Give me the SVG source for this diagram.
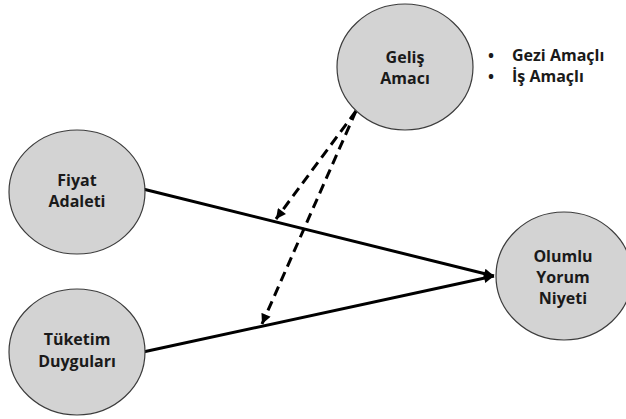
<svg xmlns="http://www.w3.org/2000/svg" width="626" height="419" viewBox="0 0 626 419">
  <style>
    .node { fill: #d3d3d3; stroke: #3c3c3c; stroke-width: 1.2; }
    .label { font-family: "Open Sans", "Liberation Sans", sans-serif; font-weight: bold; font-size: 16px; fill: #1a1a1a; text-anchor: middle; }
    .list { font-family: "Open Sans", "Liberation Sans", sans-serif; font-weight: bold; font-size: 16px; fill: #1a1a1a; }
    .solid { fill: none; stroke: #000; stroke-width: 3; }
    .dashed { fill: none; stroke: #000; stroke-width: 3; stroke-dasharray: 10 6; }
  </style>
  <defs>
    <marker id="arrow" viewBox="0 0 10 10" refX="10" refY="5" markerWidth="11" markerHeight="10" markerUnits="userSpaceOnUse" orient="auto">
      <path d="M0,0 L10,5 L0,10 z" fill="#000"/>
    </marker>
  </defs>
  <rect width="626" height="419" fill="#fff"/>

  <g id="connectors">
    <line class="solid" x1="143" y1="189" x2="494" y2="276" marker-end="url(#arrow)"/>
    <line class="solid" x1="143" y1="352" x2="494" y2="276" marker-end="url(#arrow)"/>
    <line class="dashed" x1="356" y1="111" x2="276" y2="219" marker-end="url(#arrow)"/>
    <line class="dashed" x1="356" y1="111" x2="262" y2="324" marker-end="url(#arrow)"/>
  </g>

  <g id="gelis-amaci">
    <ellipse class="node" cx="405" cy="67" rx="68" ry="63"/>
    <text class="label" x="405" y="63">Geliş</text>
    <text class="label" x="405" y="84">Amacı</text>
  </g>

  <g id="gelis-turleri">
    <text class="list" x="488" y="61">•</text>
    <text class="list" x="512" y="61">Gezi Amaçlı</text>
    <text class="list" x="488" y="82">•</text>
    <text class="list" x="512" y="82">İş Amaçlı</text>
  </g>

  <g id="fiyat-adaleti">
    <ellipse class="node" cx="77" cy="192" rx="68" ry="62"/>
    <text class="label" x="77" y="186">Fiyat</text>
    <text class="label" x="77" y="207">Adaleti</text>
  </g>

  <g id="tuketim-duygulari">
    <ellipse class="node" cx="77" cy="352" rx="68" ry="63"/>
    <text class="label" x="77" y="345">Tüketim</text>
    <text class="label" x="77" y="367">Duyguları</text>
  </g>

  <g id="olumlu-yorum-niyeti">
    <ellipse class="node" cx="564" cy="276" rx="68" ry="64"/>
    <text class="label" x="563" y="262">Olumlu</text>
    <text class="label" x="563" y="283">Yorum</text>
    <text class="label" x="563" y="304">Niyeti</text>
  </g>
</svg>
